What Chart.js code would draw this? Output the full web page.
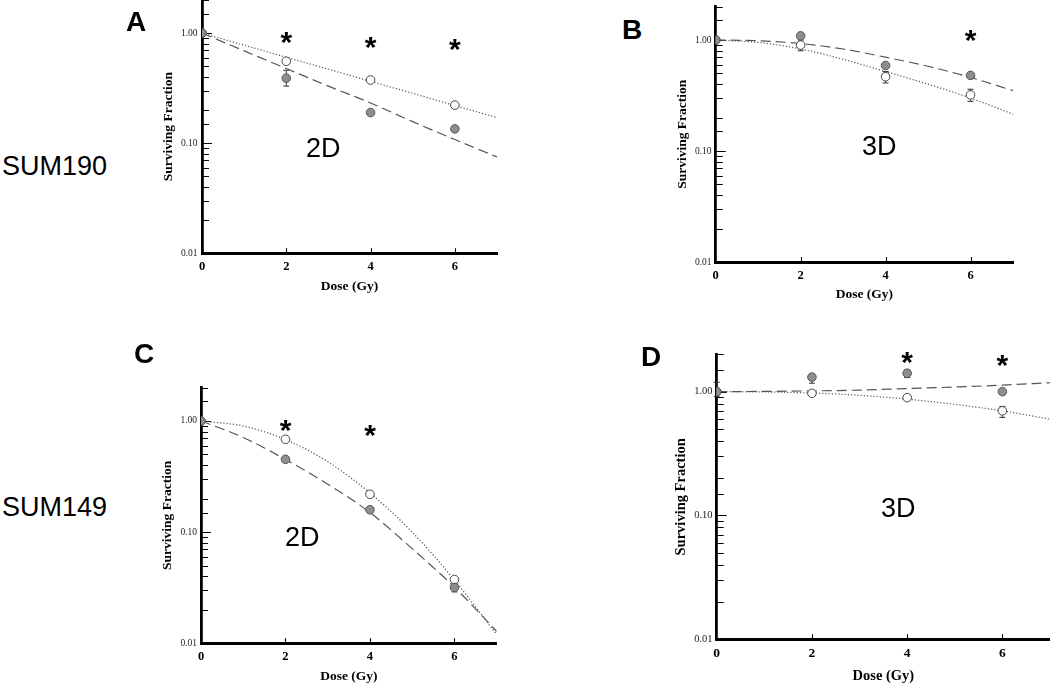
<!DOCTYPE html>
<html>
<head>
<meta charset="utf-8">
<title>Surviving fraction – SUM190 / SUM149</title>
<script src="https://cdn.jsdelivr.net/npm/chart.js@4.4.1/dist/chart.umd.min.js"></script>
<style>
    html, body { margin: 0; padding: 0; background: #fff; }
    #page { position: relative; width: 1050px; height: 684px; overflow: hidden; }
    #page canvas { position: absolute; }
    .lbl { position: absolute; font-family: 'Liberation Sans', Arial, sans-serif; line-height: 1; white-space: nowrap; color: #000; }
    .panel { font-weight: bold; font-size: 28px; }
    .cond { font-size: 27px; }
</style>
</head>
<body>
<div id="page">
    <canvas id="chartA"></canvas>
    <canvas id="chartB"></canvas>
    <canvas id="chartC"></canvas>
    <canvas id="chartD"></canvas>

    <div class="lbl" style="left:2px; top:153px; font-size:27px;">SUM190</div>
    <div class="lbl" style="left:2px; top:494px; font-size:27px;">SUM149</div>

    <div class="lbl panel" style="left:126px; top:8px;">A</div>
    <div class="lbl panel" style="left:622px; top:16px;">B</div>
    <div class="lbl panel" style="left:134px; top:340px;">C</div>
    <div class="lbl panel" style="left:641px; top:343px;">D</div>

    <div class="lbl cond" style="left:306px; top:135px;">2D</div>
    <div class="lbl cond" style="left:862px; top:133px;">3D</div>
    <div class="lbl cond" style="left:285px; top:524px;">2D</div>
    <div class="lbl cond" style="left:881px; top:495px;">3D</div>
</div>

<script>
// ── Data ─────────────────────────────────────────────────────────────
const pointDose = [0, 2, 4, 6];
const fitDose = [0, 1, 2, 3, 4, 5, 6, 7];
const doseTicks = [0, 2, 4, 6];

// A: SUM190, 2D
const openA = [1.0, 0.555, 0.375, 0.222];
const filledA = [1.0, 0.39, 0.19, 0.135];
const fitOpenA = [1.0, 0.777, 0.604, 0.47, 0.365, 0.284, 0.22, 0.171];
const fitFilledA = [1.0, 0.69, 0.477, 0.33, 0.232, 0.157, 0.108, 0.075];
const openLowA = [null, null, null, null];
const openHighA = [null, null, null, null];
const filledLowA = [null, 0.33, null, null];
const filledHighA = [null, 0.46, null, null];
const starsA = [2, 4, 6];

// B: SUM190, 3D
const openB = [1.0, 0.90, 0.467, 0.32];
const filledB = [1.0, 1.09, 0.59, 0.48];
const fitOpenB = [1.0, 0.95, 0.83, 0.67, 0.52, 0.40, 0.30, 0.215];
const fitFilledB = [1.0, 0.985, 0.93, 0.83, 0.70, 0.58, 0.46, 0.35];
const openLowB = [null, 0.80, 0.41, 0.28];
const openHighB = [null, 1.0, 0.52, 0.36];
const filledLowB = [null, null, null, null];
const filledHighB = [null, null, null, null];
const starsB = [6];

// C: SUM149, 2D
const openC = [1.0, 0.684, 0.219, 0.0375];
const filledC = [1.0, 0.452, 0.159, 0.0318];
const fitOpenC = [1.0, 0.90, 0.68, 0.43, 0.225, 0.10, 0.037, 0.012];
const fitFilledC = [1.0, 0.71, 0.45, 0.27, 0.15, 0.071, 0.032, 0.0128];
const openLowC = [null, null, null, null];
const openHighC = [null, null, null, null];
const filledLowC = [null, null, null, 0.029];
const filledHighC = [null, null, null, 0.035];
const starsC = [2, 4];

// D: SUM149, 3D
const openD = [1.0, 0.97, 0.895, 0.70];
const filledD = [1.0, 1.31, 1.41, 1.0];
const fitOpenD = [1.0, 0.995, 0.975, 0.935, 0.87, 0.79, 0.70, 0.60];
const fitFilledD = [1.0, 1.005, 1.015, 1.03, 1.06, 1.09, 1.13, 1.18];
const openLowD = [null, null, null, 0.62];
const openHighD = [null, null, null, 0.76];
const filledLowD = [0.91, 1.17, 1.30, null];
const filledHighD = [1.19, 1.38, 1.50, null];
const starsD = [4, 6];

// ── Panel geometry (page pixels) ─────────────────────────────────────
// top-row canvases start above the page so the y labels don't push the plot down;
// D's canvas runs past the right edge so its axis reaches the page edge
const geomA = { left: 130, top: -20, width: 380, height: 320, plotLeft: 202, plotRight: 497, plotTop: 0, plotBottom: 253.3,
    yTitleX: 169, xTitleY: 287, xTickY: 267, yTickRight: 197.5, starY: [35, 40, 42], fTitle: 13.5, fXTick: 12.5, fYTick: 9.5 };
const geomB = { left: 645, top: -20, width: 390, height: 330, plotLeft: 715.7, plotRight: 1013, plotTop: 6.6, plotBottom: 262,
    yTitleX: 682.7, xTitleY: 295, xTickY: 275.7, yTickRight: 711.5, starY: [32.3], fTitle: 13.5, fXTick: 12.5, fYTick: 9.5 };
const geomC = { left: 130, top: 330, width: 380, height: 354, plotLeft: 201, plotRight: 496.7, plotTop: 387.5, plotBottom: 643.3,
    yTitleX: 167.7, xTitleY: 676.7, xTickY: 656.7, yTickRight: 197, starY: [422.7, 427.7], fTitle: 13.5, fXTick: 12.5, fYTick: 9.5 };
const geomD = { left: 645, top: 330, width: 415, height: 354, plotLeft: 716.7, plotRight: 1050, plotTop: 354.4, plotBottom: 639.3,
    yTitleX: 681, xTitleY: 676.7, xTickY: 653.3, yTickRight: 712.5, starY: [355, 357.3], fTitle: 14.5, fXTick: 13.5, fYTick: 10.5 };

const SERIF = "'Liberation Serif', 'Times New Roman', serif";

const isDecade = v => Math.abs(Math.log10(v) - Math.round(Math.log10(v))) < 1e-6;
const toXY = (xs, ys) => xs.map((x, i) => ({ x, y: ys[i] }));

// inward tick marks + error bars, drawn under the markers
const errorBars = {
    id: 'errorBars',
    beforeDatasetsDraw(chart) {
        const { ctx, chartArea, scales: { x, y } } = chart;
        ctx.save();
        ctx.setLineDash([]);

        ctx.strokeStyle = '#000';
        ctx.lineWidth = 1.1;
        ctx.beginPath();
        y.getTicks().forEach(t => {
            const py = Math.round(y.getPixelForValue(t.value)) + 0.5;
            const len = isDecade(t.value) ? 10 : 7;
            ctx.moveTo(chartArea.left, py);
            ctx.lineTo(chartArea.left + len, py);
        });
        doseTicks.forEach(d => {
            if (d === 0) return;
            const px = Math.round(x.getPixelForValue(d)) + 0.5;
            ctx.moveTo(px, chartArea.bottom);
            ctx.lineTo(px, chartArea.bottom - 5);
        });
        ctx.stroke();

        ctx.strokeStyle = '#333';
        ctx.lineWidth = 1;
        chart.data.datasets.forEach(ds => {
            if (!ds.errLow) return;
            ds.errLow.forEach((lo, i) => {
                const hi = ds.errHigh[i];
                if (lo == null || hi == null) return;
                const px = x.getPixelForValue(pointDose[i]);
                const y1 = y.getPixelForValue(lo);
                const y2 = y.getPixelForValue(hi);
                ctx.beginPath();
                ctx.moveTo(px, y1); ctx.lineTo(px, y2);
                ctx.moveTo(px - 3, y1); ctx.lineTo(px + 3, y1);
                ctx.moveTo(px - 3, y2); ctx.lineTo(px + 3, y2);
                ctx.stroke();
            });
        });
        ctx.restore();
    }
};

const starMarks = {
    id: 'starMarks',
    afterDraw(chart, args, opts) {
        const { ctx, scales: { x } } = chart;
        const size = 30;
        ctx.save();
        ctx.fillStyle = '#000';
        ctx.font = `bold ${size}px 'Liberation Sans', Arial, sans-serif`;
        ctx.textAlign = 'center';
        ctx.textBaseline = 'alphabetic';
        (opts.doses || []).forEach((d, i) => {
            ctx.fillText('*', x.getPixelForValue(d), opts.ys[i] + size * 0.58);
        });
        ctx.restore();
    }
};

function buildPanel(id, g, d) {
    const canvas = document.getElementById(id);
    canvas.width = g.width;
    canvas.height = g.height;
    canvas.style.left = g.left + 'px';
    canvas.style.top = g.top + 'px';

    const titleLH = g.fTitle * 1.2;
    const xTickLH = g.fXTick * 1.2;

    new Chart(canvas, {
        type: 'scatter',
        data: {
            datasets: [
                {
                    label: 'filled',
                    data: toXY(pointDose, d.filled),
                    backgroundColor: '#8e8e8e',
                    borderColor: '#555',
                    borderWidth: 1,
                    pointRadius: 4.3,
                    errLow: d.filledLow,
                    errHigh: d.filledHigh,
                    order: 0
                },
                {
                    label: 'open',
                    data: toXY(pointDose, d.open),
                    backgroundColor: '#fff',
                    borderColor: '#444',
                    borderWidth: 1,
                    pointRadius: 4.3,
                    errLow: d.openLow,
                    errHigh: d.openHigh,
                    order: 1
                },
                {
                    label: 'fit filled',
                    data: toXY(fitDose, d.fitFilled),
                    showLine: true,
                    pointRadius: 0,
                    borderColor: '#555',
                    borderWidth: 1.2,
                    borderDash: [10, 5],
                    cubicInterpolationMode: 'monotone',
                    order: 2
                },
                {
                    label: 'fit open',
                    data: toXY(fitDose, d.fitOpen),
                    showLine: true,
                    pointRadius: 0,
                    borderColor: '#555',
                    borderWidth: 1.2,
                    borderDash: [1.2, 2],
                    cubicInterpolationMode: 'monotone',
                    order: 3
                }
            ]
        },
        options: {
            responsive: false,
            animation: false,
            events: [],
            layout: {
                padding: { left: 0, bottom: 0, top: g.plotTop - g.top, right: g.left + g.width - g.plotRight }
            },
            plugins: {
                legend: { display: false },
                tooltip: { enabled: false },
                starMarks: { doses: d.stars, ys: g.starY.map(v => v - g.top) }
            },
            scales: {
                x: {
                    type: 'linear',
                    min: 0,
                    max: 7,
                    afterFit: s => { s.height = g.top + g.height - g.plotBottom; },
                    afterBuildTicks: s => { s.ticks = doseTicks.map(v => ({ value: v })); },
                    grid: { display: false, drawTicks: false },
                    border: { display: true, color: '#000', width: 3 },
                    ticks: {
                        color: '#000',
                        padding: g.xTickY - g.plotBottom - xTickLH / 2,
                        font: { family: SERIF, size: g.fXTick, weight: 'bold' },
                        maxRotation: 0
                    },
                    title: {
                        display: true,
                        text: 'Dose (Gy)',
                        color: '#000',
                        font: { family: SERIF, size: g.fTitle, weight: 'bold' },
                        padding: { top: 0, bottom: g.top + g.height - g.xTitleY - titleLH / 2 }
                    }
                },
                y: {
                    type: 'logarithmic',
                    min: 0.01,
                    max: 2,
                    afterFit: s => { s.width = g.plotLeft - g.left; },
                    grid: { display: false, drawTicks: false },
                    border: { display: true, color: '#000', width: 2.8 },
                    ticks: {
                        autoSkip: false,
                        color: '#222',
                        padding: g.plotLeft - g.yTickRight,
                        font: { family: SERIF, size: g.fYTick },
                        callback: v => isDecade(v) ? Number(v).toFixed(2) : ''
                    },
                    title: {
                        display: true,
                        text: 'Surviving Fraction',
                        color: '#000',
                        font: { family: SERIF, size: g.fTitle, weight: 'bold' },
                        padding: { top: g.yTitleX - g.left - titleLH / 2, bottom: 0 }
                    }
                }
            }
        },
        plugins: [errorBars, starMarks]
    });
}

buildPanel('chartA', geomA, {
    open: openA, filled: filledA, fitOpen: fitOpenA, fitFilled: fitFilledA,
    openLow: openLowA, openHigh: openHighA, filledLow: filledLowA, filledHigh: filledHighA, stars: starsA
});
buildPanel('chartB', geomB, {
    open: openB, filled: filledB, fitOpen: fitOpenB, fitFilled: fitFilledB,
    openLow: openLowB, openHigh: openHighB, filledLow: filledLowB, filledHigh: filledHighB, stars: starsB
});
buildPanel('chartC', geomC, {
    open: openC, filled: filledC, fitOpen: fitOpenC, fitFilled: fitFilledC,
    openLow: openLowC, openHigh: openHighC, filledLow: filledLowC, filledHigh: filledHighC, stars: starsC
});
buildPanel('chartD', geomD, {
    open: openD, filled: filledD, fitOpen: fitOpenD, fitFilled: fitFilledD,
    openLow: openLowD, openHigh: openHighD, filledLow: filledLowD, filledHigh: filledHighD, stars: starsD
});
</script>
</body>
</html>
